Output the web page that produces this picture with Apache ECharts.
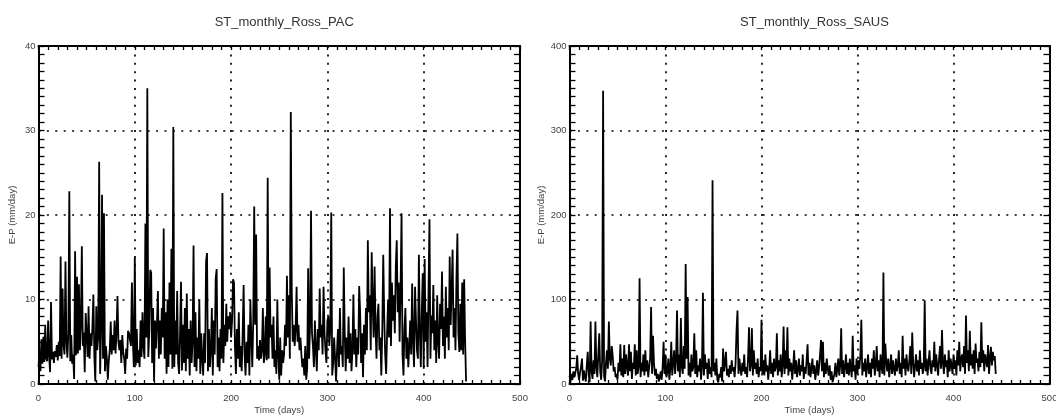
<!DOCTYPE html>
<html>
<head>
<meta charset="utf-8">
<script src="https://cdn.jsdelivr.net/npm/echarts@6/dist/echarts.min.js"></script>
<style>
  html, body { margin: 0; padding: 0; background: #fff; }
  #chart { width: 1056px; height: 416px; }
</style>
</head>
<body>
<div id="chart"></div>
<script>
// E-P (mm/day), one value per day, day 0..444
var pacValues = [
  2.0, 3.8, 1.5, 5.3, 2.4, 5.6, 2.6, 7.0, 3.0, 2.7,
  7.5, 3.4, 1.4, 9.7, 2.9, 3.8, 2.5, 3.9, 3.2, 4.6,
  2.8, 5.0, 3.3, 15.1, 3.0, 11.3, 4.6, 3.5, 14.5, 5.0,
  3.1, 6.0, 22.8, 2.7, 5.8, 2.4, 3.5, 0.6, 15.7, 3.4,
  12.7, 3.6, 11.8, 4.0, 7.0, 16.3, 4.5, 6.1, 1.4, 8.4,
  8.3, 3.2, 9.2, 3.0, 6.0, 4.5, 6.8, 10.6, 3.2, 0.3,
  9.2, 4.0, 5.5, 26.3, 1.2, 6.5, 22.4, 3.0, 20.2, 1.5,
  4.5, 3.0, 0.5, 2.8, 4.0, 7.4, 3.5, 5.8, 4.0, 7.5,
  3.6, 6.0, 10.4, 5.0, 4.0, 5.2, 2.5, 5.8, 3.8, 3.0,
  1.2, 4.2, 3.0, 6.3, 6.0, 5.8, 4.5, 12.0, 5.0, 2.0,
  15.0, 2.2, 6.5, 2.5, 4.0, 2.0, 7.5, 3.2, 8.5, 4.5,
  3.0, 19.0, 5.5, 35.0, 3.2, 6.0, 13.5, 13.2, 2.5, 9.0,
  0.3, 7.5, 4.2, 7.2, 11.0, 3.0, 7.5, 3.5, 9.0, 5.5,
  18.4, 3.0, 8.5, 1.2, 10.0, 2.0, 12.0, 3.5, 16.0, 1.8,
  30.4, 2.0, 7.5, 3.5, 11.0, 2.5, 1.2, 6.0, 12.1, 1.6,
  7.0, 2.5, 9.0, 1.5, 10.7, 3.0, 6.5, 1.0, 7.5, 2.5,
  5.0, 16.4, 2.0, 8.5, 1.5, 5.5, 3.0, 10.0, 1.2, 6.0,
  3.0, 1.0, 6.0, 2.5, 14.5, 15.5, 1.5, 6.5, 2.0, 4.0,
  9.0, 1.0, 7.5, 3.5, 12.5, 13.6, 2.0, 5.5, 1.5, 6.5,
  3.0, 22.6, 2.5, 7.0, 4.5, 9.5, 5.0, 8.0, 6.5, 8.5,
  5.5, 7.5, 12.4, 12.0, 4.5, 1.2, 6.5, 3.0, 8.5, 2.0,
  4.5, 1.5, 6.0, 11.7, 3.5, 1.0, 5.0, 2.5, 7.0, 1.0,
  10.0, 5.5, 2.0, 7.5, 21.0, 7.0, 17.7, 3.0, 4.5, 2.8,
  5.2, 3.0, 4.0, 9.0, 2.5, 3.5, 8.0, 2.8, 24.4, 3.0,
  13.8, 5.5, 7.0, 3.0, 8.0, 2.0, 4.0, 1.2, 10.0, 3.5,
  0.5, 5.5, 1.0, 4.0, 2.5, 3.5, 7.0, 4.5, 12.8, 5.5,
  10.5, 3.0, 32.2, 11.0, 5.0, 7.0, 4.5, 6.5, 11.5, 5.0,
  7.0, 4.0, 5.5, 3.5, 2.0, 3.0, 1.0, 4.5, 0.5, 1.8,
  13.7, 3.0, 7.0, 20.5, 6.0, 4.5, 2.0, 7.5, 4.0, 1.5,
  6.5, 4.0, 11.3, 5.5, 7.0, 3.5, 11.5, 6.0, 4.0, 2.5,
  7.5, 8.0, 4.5, 6.5, 20.3, 1.0, 2.5, 5.5, 3.0, 0.3,
  4.0, 6.5, 2.0, 9.0, 3.5, 4.5, 2.0, 13.8, 6.0, 1.5,
  5.5, 3.0, 8.0, 2.5, 6.0, 1.5, 4.0, 10.6, 3.5, 6.5,
  2.0, 5.5, 3.5, 11.6, 8.5, 2.5, 6.0, 0.8, 7.0, 3.5,
  9.0, 4.0, 17.0, 8.5, 10.5, 4.0, 15.6, 9.5, 5.5, 13.9,
  6.5, 3.0, 8.0, 9.5, 4.0, 5.5, 1.0, 6.5, 15.3, 8.0,
  3.5, 1.2, 6.0, 10.0, 5.5, 20.8, 4.5, 12.0, 7.5, 10.5,
  6.0, 13.8, 17.0, 8.5, 12.0, 5.0, 11.5, 20.2, 3.5, 1.0,
  6.5, 9.0, 3.0, 5.5, 2.0, 4.5, 7.5, 3.5, 11.9, 5.0,
  2.0, 11.5, 7.5, 4.0, 3.0, 15.3, 6.0, 2.0, 8.5, 13.1,
  1.8, 14.8, 5.0, 8.5, 2.0, 11.0, 19.5, 3.0, 8.1, 6.0,
  11.7, 4.0, 7.5, 2.5, 10.5, 5.0, 3.0, 9.5, 6.5, 13.3,
  4.5, 8.0, 3.0, 11.5, 5.5, 9.0, 4.0, 15.1, 7.0, 11.0,
  15.9, 5.5, 9.0, 4.0, 12.5, 17.8, 6.0, 3.8, 9.5, 4.0,
  12.0, 3.5, 12.4, 5.2, 0.3
];

var sausValues = [
  10, 2, 12, 5, 15, 8, 6, 18, 34, 12,
  5, 14, 20, 30, 4, 16, 8, 3, 22, 38,
  10, 2, 74, 15, 6, 28, 12, 74, 20, 8,
  35, 60, 15, 5, 28, 347, 10, 3, 25, 40,
  18, 74, 30, 22, 45, 34, 15, 20, 8, 12,
  5, 25, 15, 47, 10, 30, 8, 46, 12, 35,
  20, 10, 47, 15, 38, 6, 25, 18, 47, 10,
  40, 12, 20, 125, 8, 25, 15, 35, 10, 40,
  15, 28, 8, 20, 30, 91, 12, 57, 25, 10,
  18, 6, 12, 3, 8, 15, 5, 20, 50, 12,
  35, 8, 15, 30, 5, 18, 50, 10, 25, 40,
  12, 28, 87, 15, 35, 8, 78, 20, 12, 45,
  18, 142, 30, 103, 10, 25, 8, 35, 15, 20,
  60, 12, 40, 8, 22, 15, 30, 5, 20, 108,
  10, 35, 18, 25, 6, 30, 12, 20, 8, 241,
  15, 25, 10, 30, 5, 2, 12, 8, 20, 3,
  42, 15, 25, 38, 10, 18, 8, 22, 12, 28,
  15, 20, 8, 25, 64, 87, 12, 30, 18, 10,
  25, 15, 35, 12, 20, 8, 30, 67, 15, 22,
  66, 10, 40, 18, 25, 12, 30, 8, 20, 15,
  76, 12, 28, 10, 35, 15, 22, 5, 18, 40,
  12, 25, 8, 30, 15, 20, 60, 10, 28, 15,
  35, 8, 22, 68, 12, 40, 18, 67, 10, 30,
  15, 25, 5, 20, 40, 12, 28, 8, 18, 30,
  10, 22, 15, 35, 6, 20, 12, 28, 47, 10,
  25, 8, 18, 30, 12, 22, 5, 15, 28, 10,
  20, 35, 52, 15, 50, 8, 25, 12, 30, 18,
  10, 22, 5, 15, 2, 0, 12, 25, 8, 18,
  30, 10, 22, 66, 12, 28, 8, 20, 35, 12,
  25, 10, 30, 18, 8, 57, 15, 22, 5, 30,
  12, 28, 18, 35, 76, 10, 25, 15, 30, 8,
  20, 35, 12, 25, 8, 30, 18, 40, 10, 22,
  45, 15, 28, 8, 35, 20, 12, 132, 10, 48,
  25, 15, 30, 8, 20, 35, 12, 28, 18, 10,
  30, 15, 22, 40, 12, 25, 8, 57, 18, 30,
  10, 35, 20, 15, 28, 45, 12, 61, 25, 8,
  22, 35, 15, 28, 10, 40, 18, 25, 12, 20,
  99, 15, 30, 10, 25, 40, 18, 12, 28, 20,
  50, 15, 35, 22, 10, 30, 45, 18, 64, 25,
  12, 35, 20, 28, 8, 40, 15, 30, 22, 12,
  35, 18, 28, 10, 40, 22, 50, 15, 30, 35,
  20, 45, 12, 81, 25, 40, 15, 63, 22, 35,
  18, 40, 12, 48, 25, 30, 15, 38, 20, 73,
  25, 40, 15, 35, 28, 20, 46, 12, 30, 44,
  22, 38, 28, 33, 12
];

var titles = ['ST_monthly_Ross_PAC', 'ST_monthly_Ross_SAUS'];
var yMax = [40, 400];
var yStep = [10, 100];

var font = 'Liberation Sans, Arial, Helvetica, sans-serif';
var grids = [
  {left: 38.5, top: 46, width: 481.5, height: 338, outerBoundsMode: 'none'},
  {left: 569.5, top: 46, width: 480, height: 338, outerBoundsMode: 'none'}
];

function toPairs(arr) {
  return arr.map(function (v, i) { return [i, v]; });
}

var dotted = {color: '#000', width: 1.7, type: [2, 6.4]};
var xAxes = [], yAxes = [], titleList = [], seriesList = [];

grids.forEach(function (g, k) {
  titleList.push({
    text: titles[k],
    left: g.left + g.width / 2,
    top: 11,
    textAlign: 'center',
    textStyle: {fontFamily: font, fontSize: 13, fontWeight: 'normal', color: '#333'}
  });
  // bottom + top x axes
  [false, true].forEach(function (isTop) {
    xAxes.push({
      type: 'value', gridIndex: k, position: isTop ? 'top' : 'bottom',
      min: 0, max: 500, interval: 100,
      name: isTop ? '' : 'Time (days)',
      nameLocation: 'middle', nameGap: 21, nameMoveOverlap: false,
      nameTextStyle: {fontFamily: font, fontSize: 9.5, color: '#444'},
      axisLine: {show: true, onZero: false, lineStyle: {color: '#000', width: 2}},
      axisTick: {show: true, inside: true, length: 4, lineStyle: {color: '#000', width: 1.3}},
      minorTick: {show: true, splitNumber: 10, length: 4, lineStyle: {color: '#000', width: 1.3}},
      axisLabel: {show: !isTop, margin: 9, fontFamily: font, fontSize: 9.5, color: '#444'},
      splitLine: {show: !isTop, lineStyle: dotted}
    });
  });
  // left + right y axes
  [false, true].forEach(function (isRight) {
    yAxes.push({
      type: 'value', gridIndex: k, position: isRight ? 'right' : 'left',
      min: 0, max: yMax[k], interval: yStep[k],
      name: isRight ? '' : 'E-P (mm/day)',
      nameLocation: 'middle', nameGap: 21,
      nameTextStyle: {fontFamily: font, fontSize: 9.5, color: '#444'},
      axisLine: {show: true, onZero: false, lineStyle: {color: '#000', width: 2}},
      axisTick: {show: true, inside: true, length: 6, lineStyle: {color: '#000', width: 1.3}},
      minorTick: {show: true, splitNumber: 10, length: 6, lineStyle: {color: '#000', width: 1.3}},
      axisLabel: {show: !isRight, margin: 3, fontFamily: font, fontSize: 9.5, color: '#444'},
      splitLine: {show: !isRight, lineStyle: dotted}
    });
  });
});

seriesList.push({
  type: 'line', xAxisIndex: 0, yAxisIndex: 0,
  data: toPairs(pacValues), showSymbol: false, symbol: 'none',
  lineStyle: {color: '#000', width: 1.8}
});
seriesList.push({
  type: 'line', xAxisIndex: 2, yAxisIndex: 2,
  data: toPairs(sausValues), showSymbol: false, symbol: 'none',
  lineStyle: {color: '#000', width: 1.8}
});

var myChart = echarts.init(document.getElementById('chart'), null, {renderer: 'canvas'});
myChart.setOption({
  animation: false,
  backgroundColor: '#fff',
  title: titleList,
  grid: grids,
  xAxis: xAxes,
  yAxis: yAxes,
  series: seriesList
});
</script>
</body>
</html>
